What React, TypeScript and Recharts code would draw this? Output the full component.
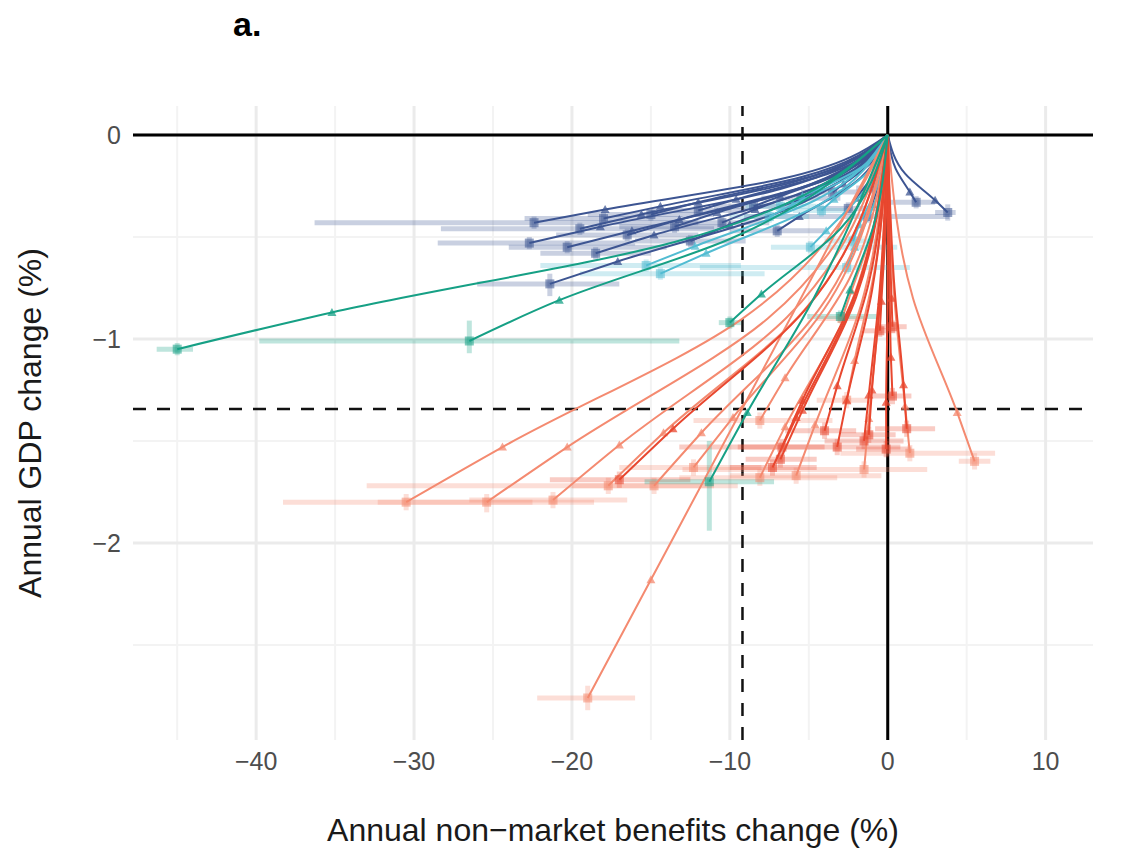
import React from 'react';
import { ScatterChart, Scatter, XAxis, YAxis, CartesianGrid, ReferenceLine } from 'recharts';

// Each row: [bendX, bendY, markX, markY, endX, endY, errXlo, errXhi, errYlo, errYhi]
const blueRows: number[][] = [
  [-6.7, -0.215, -17.9, -0.365, -22.4, -0.43, -36.3, -12.0, -0.46, -0.40],
  [-6.8, -0.265, -18.2, -0.45, -22.7, -0.53, -28.5, -16.0, -0.56, -0.50],
  [-6.1, -0.275, -16.2, -0.47, -20.3, -0.55, -24.0, -14.0, -0.58, -0.52],
  [-6.4, -0.365, -17.1, -0.62, -21.4, -0.73, -26.0, -17.0, -0.79, -0.68],
  [-5.9, -0.23, -15.6, -0.39, -19.5, -0.46, -28.3, -11.0, -0.49, -0.43],
  [-5.4, -0.205, -14.4, -0.35, -18.0, -0.41, -23.0, -13.0, -0.44, -0.38],
  [-5.0, -0.245, -13.2, -0.415, -16.5, -0.49, -21.0, -12.0, -0.52, -0.46],
  [-4.5, -0.195, -12.0, -0.33, -15.0, -0.39, -19.0, -11.0, -0.42, -0.36],
  [-4.1, -0.225, -10.8, -0.38, -13.5, -0.45, -17.0, -10.0, -0.48, -0.42],
  [-3.6, -0.185, -9.6, -0.315, -12.0, -0.37, -15.0, -9.0, -0.40, -0.34],
  [-3.2, -0.215, -8.4, -0.365, -10.5, -0.43, -13.5, -7.5, -0.46, -0.40],
  [-2.6, -0.175, -6.8, -0.30, -8.5, -0.35, -11.0, -6.0, -0.38, -0.32],
  [-0.4, -0.20, -1.0, -0.34, -1.3, -0.40, -9.1, 3.9, -0.43, -0.37],
  [-0.3, -0.13, -0.8, -0.22, -1.0, -0.26, -2.0, 0.0, -0.29, -0.23],
  [-1.7, -0.155, -4.4, -0.265, -5.5, -0.31, -8.0, -3.0, -0.34, -0.28],
  [-1.1, -0.14, -2.8, -0.24, -3.5, -0.28, -5.5, -1.5, -0.31, -0.25],
  [0.5, -0.165, 1.4, -0.28, 1.8, -0.33, 0.0, 3.0, -0.36, -0.30],
  [1.1, -0.19, 3.0, -0.32, 3.8, -0.38, 3.0, 4.3, -0.42, -0.34],
  [-5.6, -0.29, -14.8, -0.49, -18.5, -0.58, -22.0, -15.0, -0.61, -0.55],
  [-3.8, -0.26, -10.0, -0.44, -12.5, -0.52, -16.0, -9.0, -0.55, -0.49],
  [-0.8, -0.18, -2.0, -0.31, -2.5, -0.36, -4.5, -0.5, -0.39, -0.33],
  [-2.1, -0.235, -5.6, -0.40, -7.0, -0.47, -10.0, -4.0, -0.50, -0.44],
];

const cyanRows: number[][] = [
  [-4.6, -0.32, -12.2, -0.545, -15.3, -0.64, -22.0, -9.3, -0.67, -0.61],
  [-4.3, -0.34, -11.5, -0.58, -14.4, -0.68, -19.5, -7.8, -0.71, -0.65],
  [-1.5, -0.275, -3.9, -0.47, -4.9, -0.55, -7.4, 0.6, -0.58, -0.52],
  [-2.0, -0.175, -5.4, -0.30, -6.8, -0.35, -9.0, -4.5, -0.38, -0.32],
  [-0.8, -0.325, -2.1, -0.55, -2.6, -0.65, -11.9, 1.4, -0.68, -0.62],
  [-0.7, -0.26, -1.8, -0.44, -2.2, -0.52, -4.0, -0.5, -0.55, -0.49],
  [-1.3, -0.185, -3.4, -0.315, -4.2, -0.37, -6.0, -2.5, -0.40, -0.34],
  [-2.3, -0.20, -6.0, -0.34, -7.5, -0.40, -10.0, -5.0, -0.43, -0.37],
];

const tealRows: number[][] = [
  [-13.5, -0.525, -35.2, -0.87, -45.0, -1.05, -46.3, -44.0, -1.08, -1.02],
  [-10.0, -0.51, -20.8, -0.81, -26.5, -1.01, -39.8, -13.2, -1.07, -0.91],
  [-3.0, -0.46, -8.0, -0.78, -10.0, -0.92, -10.7, -9.3, -0.95, -0.89],
  [-4.75, -0.81, -8.9, -1.36, -11.3, -1.70, -15.4, -7.2, -1.94, -1.50],
  [-0.9, -0.445, -2.4, -0.76, -3.0, -0.89, -5.1, -0.7, -0.92, -0.86],
];

const salmonRows: number[][] = [
  [-9.2, -0.90, -24.4, -1.53, -30.5, -1.80, -38.3, -22.5, -1.84, -1.76],
  [-7.6, -0.90, -20.3, -1.53, -25.4, -1.80, -32.3, -18.6, -1.85, -1.76],
  [-6.4, -0.895, -17.0, -1.52, -21.2, -1.79, -26.5, -16.5, -1.83, -1.75],
  [-9.0, -1.31, -15.0, -2.18, -19.0, -2.76, -22.2, -16.0, -2.82, -2.70],
  [-5.3, -0.86, -14.2, -1.46, -17.7, -1.72, -33.0, -11.0, -1.76, -1.68],
  [-4.4, -0.86, -11.8, -1.46, -14.8, -1.72, -20.0, -9.5, -1.76, -1.68],
  [-2.4, -0.84, -6.5, -1.43, -8.1, -1.68, -13.2, -3.2, -1.72, -1.64],
  [-1.7, -0.835, -4.6, -1.42, -5.8, -1.67, -10.0, -0.4, -1.71, -1.63],
  [-0.5, -0.82, -1.2, -1.39, -1.5, -1.64, -13.0, 2.5, -1.68, -1.60],
  [0.4, -0.78, 1.1, -1.33, 1.4, -1.56, -3.0, 6.8, -1.60, -1.52],
  [1.6, -0.80, 4.4, -1.36, 5.5, -1.60, 4.5, 6.5, -1.64, -1.56],
  [-2.4, -0.70, -6.5, -1.19, -8.1, -1.40, -12.3, -3.5, -1.44, -1.36],
  [-0.8, -0.65, -2.1, -1.105, -2.6, -1.30, -4.5, -1.0, -1.34, -1.26],
  [-3.7, -0.815, -9.8, -1.385, -12.3, -1.63, -17.0, -8.0, -1.67, -1.59],
  [-0.9, -0.45, -2.3, -0.765, -2.9, -0.90, -4.5, -1.5, -0.93, -0.87],
];

const redRows: number[][] = [
  [-5.1, -0.845, -13.6, -1.44, -17.0, -1.69, -21.4, -12.5, -1.73, -1.65],
  [-2.0, -0.795, -5.4, -1.35, -6.8, -1.59, -9.0, -4.5, -1.63, -1.55],
  [-2.0, -0.765, -5.4, -1.30, -6.7, -1.53, -9.5, -4.0, -1.57, -1.49],
  [-2.2, -0.815, -5.8, -1.385, -7.3, -1.63, -10.0, -4.5, -1.67, -1.59],
  [-1.0, -0.765, -2.6, -1.30, -3.2, -1.53, -13.2, 0.8, -1.57, -1.49],
  [-0.5, -0.75, -1.2, -1.275, -1.5, -1.50, -4.0, 1.0, -1.54, -1.46],
  [-0.4, -0.735, -1.0, -1.25, -1.2, -1.47, -3.0, 0.5, -1.51, -1.43],
  [0.4, -0.72, 1.0, -1.225, 1.2, -1.44, -0.8, 3.0, -1.48, -1.40],
  [0.0, -0.77, -0.1, -1.31, -0.1, -1.54, -2.0, 1.5, -1.58, -1.50],
  [0.1, -0.64, 0.2, -1.09, 0.3, -1.28, -1.0, 1.5, -1.32, -1.24],
  [-0.15, -0.48, -0.4, -0.815, -0.5, -0.96, -1.5, 0.5, -0.99, -0.93],
  [0.1, -0.47, 0.24, -0.80, 0.3, -0.94, -0.5, 1.2, -0.97, -0.91],
  [-1.2, -0.725, -3.2, -1.23, -4.0, -1.45, -6.5, -2.0, -1.49, -1.41],
];

const xTicks = [-40, -30, -20, -10, 0, 10];
const yTicks = [-2, -1, 0];
const xMinor = [-45, -35, -25, -15, -5, 5];
const yMinor = [-2.5, -1.5, -0.5];
const xDomain = [-47.8, 13];
const yDomain = [-2.966, 0.142];
const xThreshold = -9.2;
const yThreshold = -1.343;

const groups = [
  { name: 'blue', rows: blueRows, color: '#3d5592' },
  { name: 'cyan', rows: cyanRows, color: '#52bcd2' },
  { name: 'salmon', rows: salmonRows, color: '#f48a70' },
  { name: 'red', rows: redRows, color: '#e8472f' },
  { name: 'teal', rows: tealRows, color: '#16a085' },
];

const FONT = '"Liberation Sans", Arial, Helvetica, sans-serif';
const fmt = (v: number) => String(v).replace('-', '\u2212');

const makeShape = (color: string) => (props: any) => {
  const { cx, cy, payload } = props;
  if (!payload || !payload.m || cx == null || cy == null) return <g />;
  if (payload.m === 1) {
    return (
      <path
        d={`M${cx},${cy - 4.5}L${cx - 4.5},${cy + 3.5}L${cx + 4.5},${cy + 3.5}Z`}
        fill={color}
        fillOpacity={0.75}
      />
    );
  }
  return <rect x={cx - 4.5} y={cy - 4.5} width={9} height={9} fill={color} fillOpacity={0.55} />;
};

const noShape = () => <g />;

export default function App() {
  const errorBars: React.ReactNode[] = [];
  const trajectories: React.ReactNode[] = [];
  groups.forEach((g) => {
    g.rows.forEach((r, i) => {
      const hData = [
        { x: r[6], y: r[5] },
        { x: r[7], y: r[5] },
      ];
      const vData = [
        { x: r[4], y: r[8] },
        { x: r[4], y: r[9] },
      ];
      errorBars.push(
        <Scatter
          key={`${g.name}-h-${i}`}
          data={hData}
          line={{ stroke: g.color, strokeWidth: 5, strokeOpacity: 0.28 }}
          lineJointType="linear"
          shape={noShape}
          isAnimationActive={false}
        />
      );
      errorBars.push(
        <Scatter
          key={`${g.name}-v-${i}`}
          data={vData}
          line={{ stroke: g.color, strokeWidth: 5, strokeOpacity: 0.28 }}
          lineJointType="linear"
          shape={noShape}
          isAnimationActive={false}
        />
      );
      const pts = [
        { x: 0, y: 0, m: 0 },
        { x: r[0], y: r[1], m: 0 },
        { x: r[2], y: r[3], m: 1 },
        { x: r[4], y: r[5], m: 2 },
      ];
      trajectories.push(
        <Scatter
          key={`${g.name}-t-${i}`}
          data={pts}
          line={{ stroke: g.color, strokeWidth: 2 }}
          lineJointType="monotoneY"
          shape={makeShape(g.color)}
          isAnimationActive={false}
        />
      );
    });
  });

  return (
    <div style={{ position: 'relative', width: 1122, height: 842, fontFamily: FONT }}>
      <div
        style={{
          position: 'absolute',
          left: 225,
          top: -1,
          fontSize: 34,
          lineHeight: '34px',
          fontWeight: 'bold',
          fontFamily: FONT,
          color: '#000',
        }}
      >
        a.
      </div>
      <ScatterChart width={1122} height={842} margin={{ top: 98, right: 37, bottom: 0, left: 0 }}>
        <CartesianGrid
          verticalValues={xMinor}
          horizontalValues={yMinor}
          stroke="#f3f3f3"
          strokeWidth={2}
          strokeDasharray=""
        />
        <CartesianGrid
          verticalValues={xTicks}
          horizontalValues={yTicks}
          stroke="#ebebeb"
          strokeWidth={3}
          strokeDasharray=""
        />
        <XAxis
          type="number"
          dataKey="x"
          domain={xDomain}
          ticks={xTicks}
          allowDataOverflow
          axisLine={false}
          tickLine={false}
          tickSize={6}
          tickMargin={6}
          height={110}
          tickFormatter={fmt}
          tick={{ fontSize: 25, fill: '#4d4d4d', fontFamily: FONT }}
          label={{
            value: 'Annual non\u2212market benefits change (%)',
            position: 'insideBottom',
            offset: 9,
            style: { fontSize: 32, fill: '#1a1a1a', fontFamily: FONT },
          }}
        />
        <YAxis
          type="number"
          dataKey="y"
          domain={yDomain}
          ticks={yTicks}
          allowDataOverflow
          axisLine={false}
          tickLine={false}
          tickSize={6}
          tickMargin={6}
          width={125}
          tickFormatter={fmt}
          tick={{ fontSize: 25, fill: '#4d4d4d', fontFamily: FONT }}
          label={{
            value: 'Annual GDP change (%)',
            angle: -90,
            position: 'insideLeft',
            offset: 22,
            style: { fontSize: 32, fill: '#1a1a1a', fontFamily: FONT, textAnchor: 'middle' },
          }}
        />
        {errorBars}
        {trajectories}
        <ReferenceLine y={0} stroke="#000" strokeWidth={3} />
        <ReferenceLine x={0} stroke="#000" strokeWidth={3} />
        <ReferenceLine x={xThreshold} stroke="#111" strokeWidth={2.5} strokeDasharray="13 11" />
        <ReferenceLine y={yThreshold} stroke="#111" strokeWidth={2.5} strokeDasharray="13 11" />
      </ScatterChart>
    </div>
  );
}
